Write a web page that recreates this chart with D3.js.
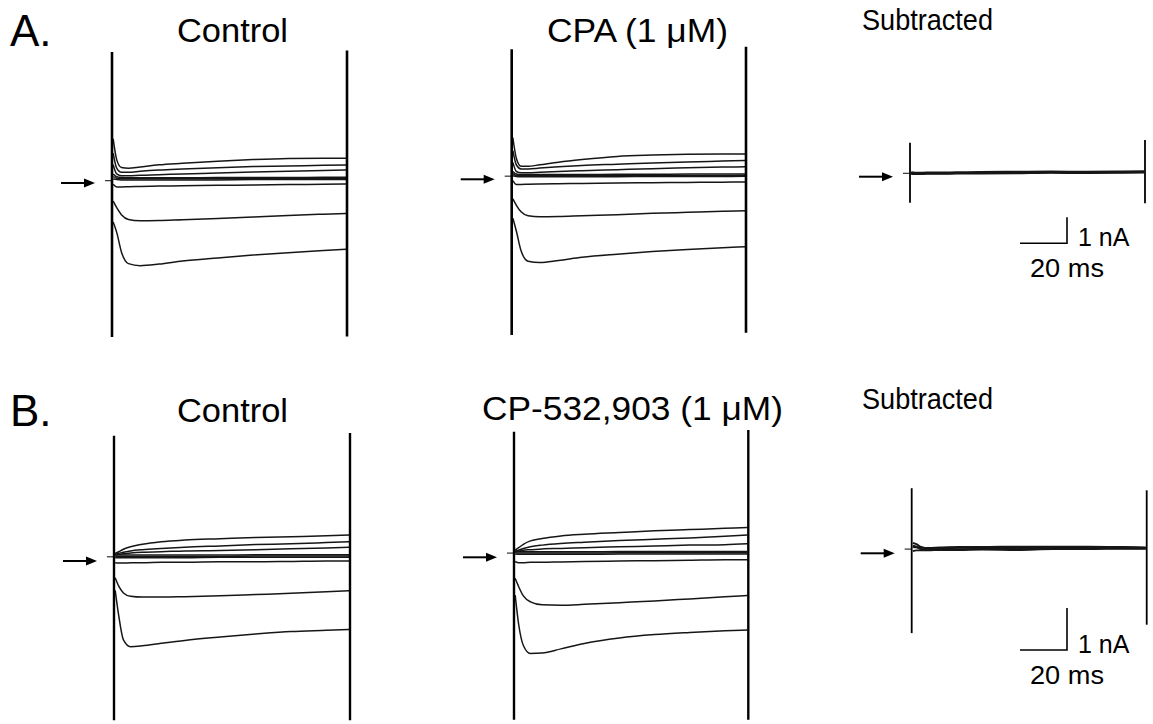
<!DOCTYPE html>
<html><head><meta charset="utf-8">
<script src="https://cdn.jsdelivr.net/npm/d3@7"></script>
<style>body{margin:0;background:#fff}svg{display:block}</style>
</head><body>
<svg id="c" width="1153" height="724"></svg>
<script>
// ---- data (time in ms, current in nA) ----
const pulseMs = 100;
const timeMs = [0.5, 2, 4, 7, 12, 20, 30, 45, 60, 75, 90, 99.6];
const rowLabels = ["A.", "B."];
const panelTitles = ["Control", "CPA (1 μM)", "Subtracted", "Control", "CP-532,903 (1 μM)", "Subtracted"];
const scaleBarLabels = ["1 nA", "20 ms"];
const scaleBarValues = [1, 20]; // nA, ms

const aControl = [
  [1.7, 0.9, 0.6, 0.57, 0.62, 0.7, 0.76, 0.84, 0.9, 0.94, 0.95, 0.95],
  [1.15, 0.57, 0.41, 0.41, 0.45, 0.5, 0.54, 0.59, 0.63, 0.65, 0.68, 0.69],
  [0.7, 0.35, 0.28, 0.28, 0.3, 0.32, 0.35, 0.38, 0.42, 0.45, 0.48, 0.5],
  [0.35, 0.24, 0.21, 0.2, 0.2, 0.2, 0.2, 0.21, 0.21, 0.21, 0.22, 0.22],
  [0.25, 0.18, 0.16, 0.16, 0.16, 0.16, 0.16, 0.16, 0.17, 0.17, 0.17, 0.17],
  [0.15, 0.13, 0.12, 0.12, 0.12, 0.12, 0.12, 0.12, 0.13, 0.13, 0.13, 0.13],
  [-0.05, -0.15, -0.15, -0.14, -0.13, -0.12, -0.11, -0.09, -0.08, -0.06, -0.05, -0.04],
  [-0.7, -0.95, -1.22, -1.4, -1.45, -1.44, -1.41, -1.37, -1.31, -1.25, -1.2, -1.17],
  [-1.5, -1.9, -2.65, -3.1, -3.18, -3.12, -3.0, -2.88, -2.77, -2.68, -2.6, -2.55]
];
const aCPA = [
  [1.6, 0.8, 0.5, 0.5, 0.56, 0.66, 0.76, 0.88, 0.93, 0.96, 0.97, 0.97],
  [1.1, 0.55, 0.4, 0.4, 0.43, 0.48, 0.53, 0.58, 0.63, 0.67, 0.7, 0.72],
  [0.65, 0.3, 0.25, 0.25, 0.27, 0.3, 0.33, 0.37, 0.41, 0.44, 0.47, 0.48],
  [0.3, 0.2, 0.18, 0.18, 0.18, 0.18, 0.18, 0.19, 0.19, 0.2, 0.2, 0.2],
  [0.22, 0.15, 0.14, 0.14, 0.14, 0.14, 0.14, 0.14, 0.15, 0.15, 0.15, 0.16],
  [0.14, 0.11, 0.1, 0.1, 0.1, 0.1, 0.1, 0.1, 0.11, 0.11, 0.11, 0.12],
  [-0.05, -0.2, -0.2, -0.19, -0.18, -0.17, -0.16, -0.14, -0.13, -0.12, -0.11, -0.1],
  [-0.75, -1.0, -1.25, -1.4, -1.44, -1.43, -1.4, -1.36, -1.31, -1.27, -1.23, -1.21],
  [-1.5, -2.0, -2.75, -3.15, -3.2, -3.12, -3.0, -2.88, -2.78, -2.7, -2.63, -2.59]
];
const aSubtracted = [
  [0.14, 0.12, 0.12, 0.13, 0.13, 0.14, 0.15, 0.17, 0.17, 0.16, 0.17, 0.18],
  [0.1, 0.1, 0.1, 0.11, 0.11, 0.12, 0.12, 0.13, 0.15, 0.14, 0.15, 0.16],
  [0.17, 0.15, 0.15, 0.16, 0.16, 0.17, 0.18, 0.19, 0.2, 0.19, 0.2, 0.21]
];
const bControl = [
  [0.18, 0.22, 0.28, 0.34, 0.4, 0.46, 0.5, 0.53, 0.56, 0.58, 0.6, 0.62],
  [0.16, 0.18, 0.21, 0.24, 0.27, 0.3, 0.33, 0.36, 0.39, 0.41, 0.44, 0.46],
  [0.14, 0.16, 0.17, 0.19, 0.21, 0.22, 0.24, 0.25, 0.27, 0.29, 0.31, 0.33],
  [0.14, 0.14, 0.14, 0.14, 0.14, 0.14, 0.14, 0.14, 0.15, 0.15, 0.15, 0.15],
  [0.11, 0.11, 0.11, 0.11, 0.11, 0.11, 0.11, 0.11, 0.12, 0.12, 0.12, 0.12],
  [0.08, 0.08, 0.08, 0.08, 0.08, 0.08, 0.08, 0.09, 0.09, 0.09, 0.09, 0.09],
  [-0.04, -0.05, -0.05, -0.04, -0.04, -0.03, -0.03, -0.02, -0.02, -0.01, 0.0, 0.0],
  [-0.4, -0.6, -0.76, -0.84, -0.86, -0.86, -0.85, -0.83, -0.8, -0.77, -0.73, -0.71],
  [-0.7, -1.3, -1.88, -2.04, -2.02, -1.96, -1.89, -1.81, -1.74, -1.68, -1.65, -1.63]
];
const bCP532903 = [
  [0.17, 0.23, 0.31, 0.39, 0.45, 0.51, 0.55, 0.59, 0.63, 0.66, 0.69, 0.71],
  [0.15, 0.17, 0.21, 0.25, 0.29, 0.33, 0.36, 0.4, 0.43, 0.46, 0.5, 0.53],
  [0.13, 0.15, 0.17, 0.18, 0.2, 0.21, 0.23, 0.25, 0.27, 0.29, 0.3, 0.32],
  [0.14, 0.13, 0.13, 0.13, 0.13, 0.13, 0.13, 0.14, 0.14, 0.14, 0.14, 0.14],
  [0.11, 0.1, 0.1, 0.1, 0.1, 0.1, 0.1, 0.11, 0.11, 0.11, 0.11, 0.11],
  [0.08, 0.07, 0.07, 0.07, 0.07, 0.07, 0.07, 0.08, 0.08, 0.08, 0.08, 0.08],
  [-0.1, -0.13, -0.13, -0.12, -0.12, -0.11, -0.1, -0.09, -0.08, -0.07, -0.06, -0.06],
  [-0.5, -0.7, -0.92, -1.06, -1.13, -1.14, -1.12, -1.08, -1.04, -0.99, -0.94, -0.91],
  [-0.9, -1.6, -2.1, -2.29, -2.28, -2.18, -2.05, -1.92, -1.84, -1.79, -1.75, -1.73]
];
const bSubtracted = [
  [0.25, 0.22, 0.15, 0.12, 0.12, 0.13, 0.13, 0.14, 0.14, 0.14, 0.14, 0.13],
  [0.15, 0.14, 0.1, 0.09, 0.1, 0.1, 0.11, 0.12, 0.12, 0.12, 0.12, 0.12],
  [0.05, 0.07, 0.07, 0.07, 0.08, 0.08, 0.09, 0.08, 0.1, 0.1, 0.11, 0.11],
  [0.18, 0.16, 0.13, 0.13, 0.14, 0.15, 0.15, 0.16, 0.16, 0.16, 0.15, 0.14]
];
// capacitive transients (clipped): [onset top, onset bottom, offset top, offset bottom] in nA
const aControlTransients = [5.04, -5.92, 5.1, -5.9];
const aCPATransients = [5.0, -5.99, 5.1, -5.9];
const aSubTransients = [1.31, -1.0, 1.41, -1.02];
const bControlTransients = [2.98, -3.79, 3.05, -3.79];
const bCPTransients = [2.99, -3.87, 3.03, -3.87];
const bSubTransients = [1.55, -1.9, 1.5, -1.7];
// holding current before the step (nA)
const holdingNA = [0.09, 0.12, 0.13, 0.1, 0.1, 0.1];

// ---- layout ----
const svg = d3.select("#c");
const FONT = "'Liberation Sans', Arial, Helvetica, sans-serif";

const panels = [
  {title: panelTitles[0], traces: aControl, trans: aControlTransients, hold: holdingNA[0], x0: 112, x1: 347, yZero: 183, ppn: 26, tx: 177, ty: 42, fs: 34, tl: 111, w: 1.5, tw: 2.6},
  {title: panelTitles[1], traces: aCPA, trans: aCPATransients, hold: holdingNA[1], x0: 511.7, x1: 746, yZero: 179.3, ppn: 26, tx: 547, ty: 42, fs: 34, tl: 181, w: 1.5, tw: 2.6},
  {title: panelTitles[2], traces: aSubtracted, trans: aSubTransients, hold: holdingNA[2], x0: 910, x1: 1145, yZero: 176.7, ppn: 26, tx: 862, ty: 30, fs: 30, tl: 131, w: 2.0, tw: 1.8, bar: {x: 1020, y: 243.3}},
  {title: panelTitles[3], traces: bControl, trans: bControlTransients, hold: holdingNA[3], x0: 114, x1: 350, yZero: 561, ppn: 42, tx: 177, ty: 421.5, fs: 34, tl: 111, w: 1.5, tw: 2.4},
  {title: panelTitles[4], traces: bCP532903, trans: bCPTransients, hold: holdingNA[4], x0: 514, x1: 748.3, yZero: 557.3, ppn: 42, tx: 482, ty: 420, fs: 34, tl: 301, w: 1.5, tw: 2.4},
  {title: panelTitles[5], traces: bSubtracted, trans: bSubTransients, hold: holdingNA[5], x0: 911.7, x1: 1146.7, yZero: 553.3, ppn: 42, tx: 862, ty: 409, fs: 30, tl: 131, w: 1.9, tw: 1.8, bar: {x: 1020, y: 650}}
];

rowLabels.forEach((lab, i) => {
  svg.append("text").attr("x", 10).attr("y", i === 0 ? 46 : 426)
    .attr("font-family", FONT).attr("font-size", 44).attr("fill", "#000").text(lab);
});

panels.forEach(p => {
  const x = d3.scaleLinear().domain([0, pulseMs]).range([p.x0, p.x1]);
  const y = d3.scaleLinear().domain([0, 1]).range([p.yZero, p.yZero - p.ppn]);
  const g = svg.append("g");
  const line = d3.line().x(d => x(d[0])).y(d => y(d[1])).curve(d3.curveMonotoneX);

  // holding segment before step
  g.append("line").attr("x1", x(-3)).attr("x2", x(0))
    .attr("y1", y(p.hold)).attr("y2", y(p.hold))
    .attr("stroke", "#333").attr("stroke-width", 1.2);

  // traces
  p.traces.forEach(tr => {
    g.append("path").attr("d", line(timeMs.map((t, i) => [t, tr[i]])))
      .attr("fill", "none").attr("stroke", "#161616").attr("stroke-width", p.w)
      .attr("stroke-linejoin", "round");
  });

  // transients
  g.append("line").attr("x1", x(0)).attr("x2", x(0))
    .attr("y1", y(p.trans[0])).attr("y2", y(p.trans[1]))
    .attr("stroke", "#000").attr("stroke-width", p.tw);
  g.append("line").attr("x1", x(pulseMs)).attr("x2", x(pulseMs))
    .attr("y1", y(p.trans[2])).attr("y2", y(p.trans[3]))
    .attr("stroke", "#000").attr("stroke-width", p.tw);

  // zero-current arrow
  const ax0 = p.x0 - 51, ax1 = p.x0 - 17;
  g.append("line").attr("x1", ax0).attr("x2", ax1 - 9)
    .attr("y1", y(0)).attr("y2", y(0)).attr("stroke", "#000").attr("stroke-width", 2);
  g.append("path")
    .attr("d", `M${ax1},${y(0)} L${ax1 - 11},${y(0) - 4.5} L${ax1 - 11},${y(0) + 4.5} Z`)
    .attr("fill", "#000");

  // title
  g.append("text").attr("x", p.tx).attr("y", p.ty)
    .attr("font-family", FONT).attr("font-size", p.fs).attr("fill", "#000")
    .attr("textLength", p.tl).attr("lengthAdjust", "spacingAndGlyphs").text(p.title);

  // scale bar
  if (p.bar) {
    const lx = x(scaleBarValues[1]) - x(0);
    const ly = y(0) - y(scaleBarValues[0]);
    const bx = p.bar.x, by = p.bar.y;
    g.append("path").attr("d", `M${bx},${by} H${bx + lx} V${by - ly}`)
      .attr("fill", "none").attr("stroke", "#000").attr("stroke-width", 1.6);
    g.append("text").attr("x", bx + lx + 11).attr("y", by + 2.5)
      .attr("font-family", FONT).attr("font-size", 25).attr("fill", "#000").text(scaleBarLabels[0]);
    g.append("text").attr("x", bx + 10).attr("y", by + 33.5)
      .attr("font-family", FONT).attr("font-size", 26).attr("fill", "#000")
      .attr("textLength", 74).attr("lengthAdjust", "spacingAndGlyphs").text(scaleBarLabels[1]);
  }
});
</script>
</body></html>
